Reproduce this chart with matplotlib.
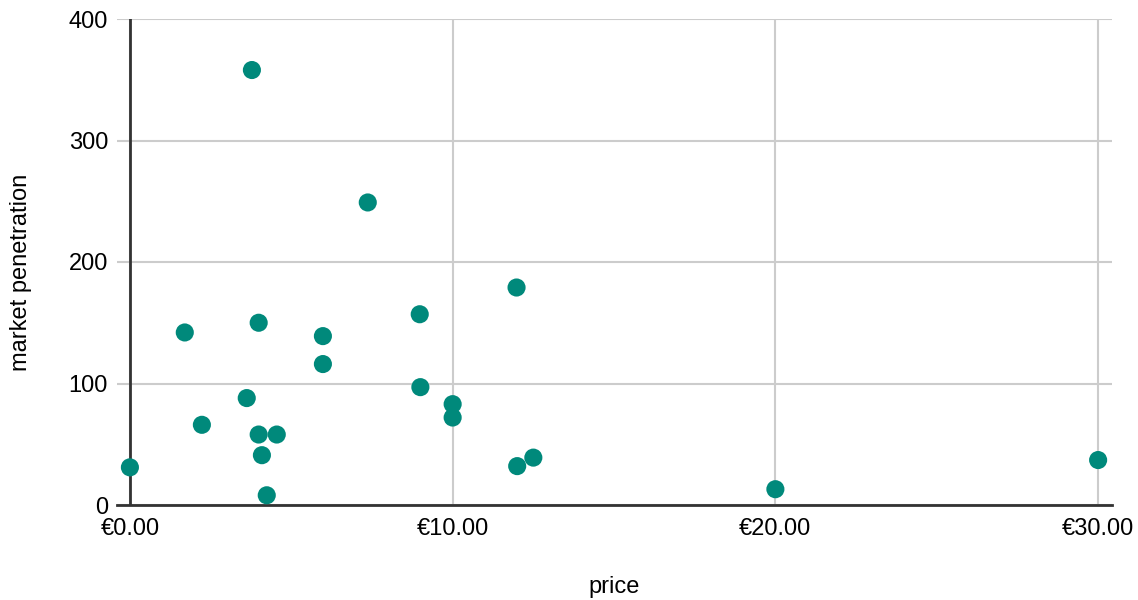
import matplotlib
matplotlib.use("Agg")
import matplotlib.pyplot as plt
from matplotlib.ticker import FuncFormatter

plt.rcParams['font.family'] = ['Liberation Sans', 'DejaVu Sans']

price = [0.0, 1.7, 2.23, 3.62, 3.78, 3.99, 3.99, 4.09, 4.24, 4.55, 5.98, 5.98,
         7.37, 8.98, 9.0, 10.0, 10.0, 11.98, 12.0, 12.5, 20.0, 30.0]
penetration = [31, 142, 66, 88, 358, 150, 58, 41, 8, 58, 139, 116,
               249, 157, 97, 83, 72, 179, 32, 39, 13, 37]

x_ticks = [0, 10, 20, 30]
y_ticks = [0, 100, 200, 300, 400]

fig = plt.figure(figsize=(11.38, 6.0), dpi=100)
ax = fig.add_axes([117/1138, 95/600, (1112-117)/1138, (505-19)/600])

ax.scatter(price, penetration, s=170, color='#00897b', edgecolors='none', zorder=4, clip_on=False)

ax.set_xlim(-0.40, 30.43)
ax.set_ylim(0, 400)
ax.set_xticks(x_ticks)
ax.set_yticks(y_ticks)
ax.xaxis.set_major_formatter(FuncFormatter(lambda v, p: f"€{v:.2f}"))
ax.yaxis.set_major_formatter(FuncFormatter(lambda v, p: f"{int(v)}"))

ax.grid(True, color='#cccccc', linewidth=1.5, zorder=0)
ax.set_axisbelow(True)
for s in ['top', 'right', 'left']:
    ax.spines[s].set_visible(False)
ax.spines['bottom'].set_color('#333333')
ax.spines['bottom'].set_linewidth(2)
ax.spines['bottom'].set_zorder(3)
ax.axvline(0, color='#333333', linewidth=2, zorder=3)

ax.tick_params(axis='both', length=0, labelsize=17, colors='#000000')
ax.tick_params(axis='y', pad=6.5)
ax.tick_params(axis='x', pad=9.5)

ax.set_xlabel('price', fontsize=17, va='center')
ax.xaxis.set_label_coords(0.5, -0.168)
ax.set_ylabel('market penetration', fontsize=17, va='center')
ax.yaxis.set_label_coords(-0.0965, 0.479)

fig.savefig('out.png', dpi=100, facecolor='white')
